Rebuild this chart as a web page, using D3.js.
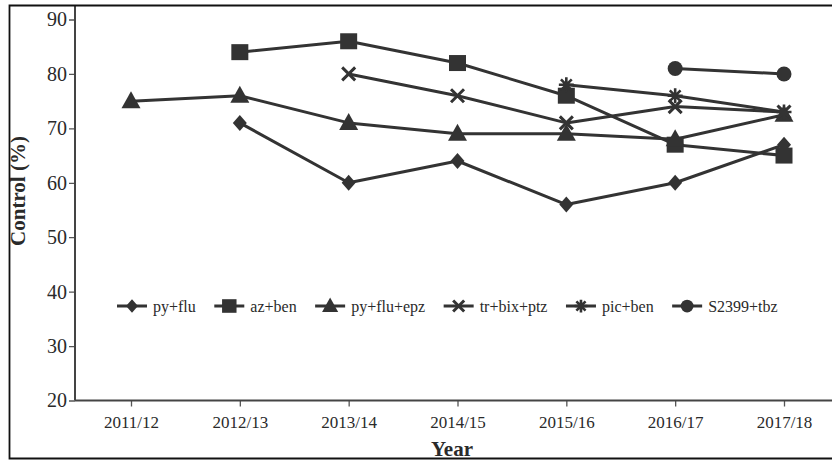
<!DOCTYPE html>
<html>
<head>
<meta charset="utf-8">
<script src="https://cdn.jsdelivr.net/npm/d3@7/dist/d3.min.js"></script>
<style>
  html, body { margin: 0; padding: 0; background: #fff; }
  svg { display: block; }
  text { font-family: "Liberation Serif", "Times New Roman", serif; fill: #2a2a2a; }
</style>
</head>
<body>
<svg id="chart" width="832" height="464"></svg>
<script>
// Seasons on the x axis
const seasons = ["2011/12", "2012/13", "2013/14", "2014/15", "2015/16", "2016/17", "2017/18"];

// Control (%) per treatment, one value per season (null = not tested)
const pyFlu    = [null, 71, 60, 64, 56, 60, 67];
const azBen    = [null, 84, 86, 82, 76, 67, 65];
const pyFluEpz = [75, 76, 71, 69, 69, 68, 72.5];
const trBixPtz = [null, null, 80, 76, 71, 74, 73];
const picBen   = [null, null, null, null, 78, 76, 73];
const s2399Tbz = [null, null, null, null, null, 81, 80];

// Y axis ticks
const yTicks = [20, 30, 40, 50, 60, 70, 80, 90];

const seriesNames   = ["py+flu", "az+ben", "py+flu+epz", "tr+bix+ptz", "pic+ben", "S2399+tbz"];
const seriesValues  = [pyFlu, azBen, pyFluEpz, trBixPtz, picBen, s2399Tbz];
const seriesMarkers = ["diamond", "square", "triangle", "cross", "asterisk", "circle"];

const series = seriesNames.map((name, i) => ({
  name,
  marker: seriesMarkers[i],
  points: seriesValues[i]
    .map((v, j) => ({ season: seasons[j], value: v }))
    .filter(d => d.value !== null)
}));

const INK = "#333";
const svg = d3.select("#chart");

// Frame
const frame = { left: 9.5, top: 5.5, right: 833, bottom: 458.5 };

const clip = svg.append("defs").append("clipPath").attr("id", "inner");
clip.append("rect")
  .attr("x", frame.left).attr("y", frame.top)
  .attr("width", frame.right - frame.left).attr("height", frame.bottom - frame.top);

const root = svg.append("g").attr("clip-path", "url(#inner)");

const x = d3.scalePoint().domain(seasons).range([131, 784]);
const y = d3.scaleLinear().domain([20, 90]).range([400.5, 19.5]);
const axisX0 = 75;

// Y axis
const yAxis = root.append("g")
  .attr("transform", `translate(${axisX0},0)`)
  .call(d3.axisLeft(y).tickValues(yTicks).tickSize(6).tickPadding(2).tickFormat(d3.format("d")));
yAxis.select(".domain").remove();
yAxis.selectAll(".tick line").attr("stroke", "#555").attr("stroke-width", 1.3);
yAxis.selectAll(".tick text")
  .attr("font-size", 20)
  .attr("font-family", "Liberation Serif")
  .attr("fill", "#2a2a2a");
root.append("line")
  .attr("x1", axisX0).attr("x2", axisX0)
  .attr("y1", frame.top).attr("y2", y(20))
  .attr("stroke", "#444").attr("stroke-width", 2);

// X axis
const xAxis = root.append("g")
  .attr("transform", `translate(0,${y(20)})`)
  .call(d3.axisBottom(x).tickSize(6).tickPadding(9));
xAxis.select(".domain").remove();
xAxis.selectAll(".tick line").attr("stroke", "#555").attr("stroke-width", 1.3);
xAxis.selectAll(".tick text")
  .attr("font-size", 17)
  .attr("font-family", "Liberation Serif")
  .attr("fill", "#2a2a2a");
root.append("line")
  .attr("x1", axisX0).attr("x2", 832)
  .attr("y1", y(20)).attr("y2", y(20))
  .attr("stroke", "#444").attr("stroke-width", 2);

// Axis titles
root.append("text")
  .attr("transform", `translate(25,191) rotate(-90)`)
  .attr("text-anchor", "middle")
  .attr("font-size", 21).attr("font-weight", "bold")
  .attr("fill", "#1a1a1a")
  .text("Control (%)");

root.append("text")
  .attr("x", 452).attr("y", 456)
  .attr("text-anchor", "middle")
  .attr("font-size", 21).attr("font-weight", "bold")
  .attr("fill", "#1a1a1a")
  .text("Year");

// Marker shapes
function drawMarker(g, type, k) {
  k = k || 1;
  if (type === "diamond") {
    g.append("path").attr("d", `M0,${-8 * k}L${7 * k},0L0,${8 * k}L${-7 * k},0Z`).attr("fill", INK);
  } else if (type === "square") {
    g.append("rect").attr("x", -8.5 * k).attr("y", -8 * k).attr("width", 17 * k).attr("height", 16 * k).attr("fill", INK);
  } else if (type === "triangle") {
    g.append("path").attr("d", `M0,${-10 * k}L${9.5 * k},${7 * k}L${-9.5 * k},${7 * k}Z`).attr("fill", INK);
  } else if (type === "cross") {
    const r = 6.5 * k;
    g.append("path").attr("d", `M${-r},${-r}L${r},${r}M${-r},${r}L${r},${-r}`)
      .attr("stroke", INK).attr("stroke-width", 3).attr("fill", "none");
  } else if (type === "asterisk") {
    const r = 7.5 * k, d = r * 0.72;
    g.append("path")
      .attr("d", `M${-r},0L${r},0M0,${-r}L0,${r}M${-d},${-d}L${d},${d}M${-d},${d}L${d},${-d}`)
      .attr("stroke", INK).attr("stroke-width", 2.6).attr("fill", "none");
  } else if (type === "circle") {
    g.append("circle").attr("r", 7.5 * k).attr("fill", INK);
  }
}

// Series lines and markers
const line = d3.line().x(d => x(d.season)).y(d => y(d.value));
const plot = root.append("g");
series.forEach(s => {
  plot.append("path")
    .datum(s.points)
    .attr("d", line)
    .attr("fill", "none")
    .attr("stroke", INK)
    .attr("stroke-width", 3)
    .attr("stroke-linejoin", "round");
});
series.forEach(s => {
  s.points.forEach(p => {
    const g = plot.append("g").attr("transform", `translate(${x(p.season)},${y(p.value)})`);
    drawMarker(g, s.marker, 1);
  });
});

// Legend row
const legend = root.append("g").attr("transform", "translate(0,306)");
let cx = 132;
series.forEach(s => {
  const item = legend.append("g").attr("transform", `translate(${cx},0)`);
  item.append("line").attr("x1", -15).attr("x2", 15).attr("stroke", INK).attr("stroke-width", 3);
  drawMarker(item, s.marker, 0.85);
  const t = item.append("text")
    .attr("x", 21).attr("y", 5.5)
    .attr("font-size", 16)
    .text(s.name);
  cx += 21 + t.node().getComputedTextLength() + 33.5;
});

// Frame lines (left, top, bottom)
svg.append("path")
  .attr("d", `M${frame.right},${frame.top}H${frame.left}V${frame.bottom}H${frame.right}`)
  .attr("fill", "none").attr("stroke", "#111").attr("stroke-width", 1.8);
</script>
</body>
</html>
